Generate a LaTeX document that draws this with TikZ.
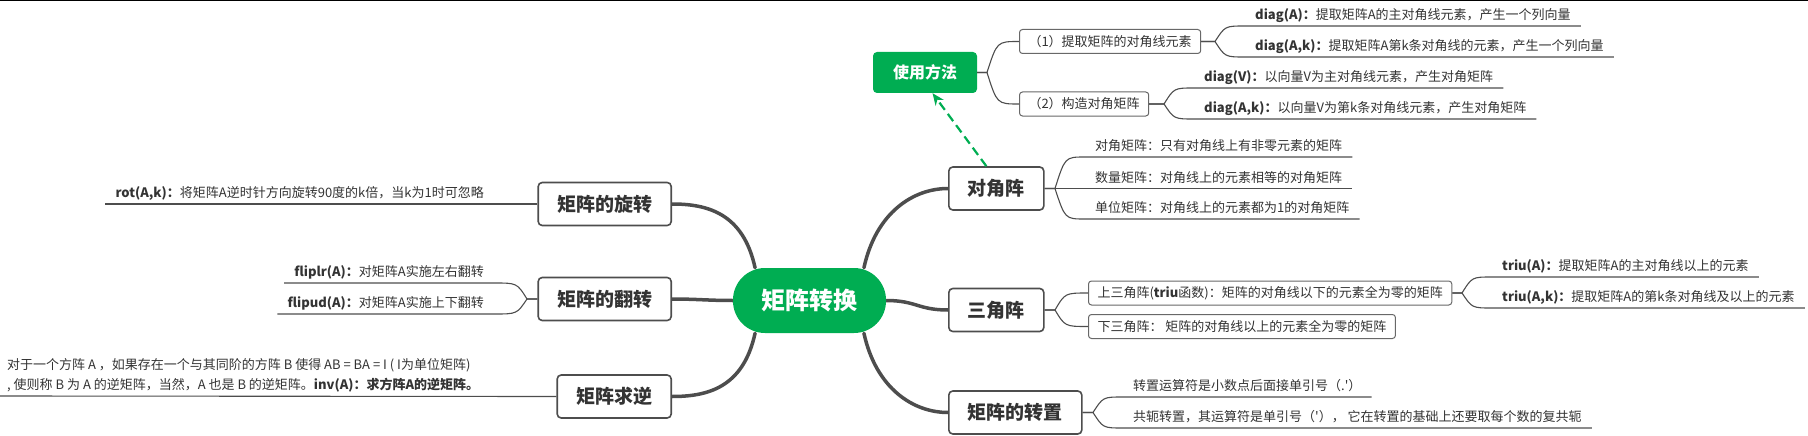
\documentclass[tikz,border=0pt]{standalone}
\usepackage{fontspec}
\setmainfont{Noto Sans CJK SC}
\usetikzlibrary{positioning, arrows.meta, backgrounds}
\definecolor{mindgreen}{HTML}{00AD52}
\definecolor{ink}{HTML}{333333}
\definecolor{edge}{HTML}{4D4D4D}
\tikzstyle{topic} = [rectangle, fill=mindgreen, text=white, rounded corners=32pt,
    minimum width=153pt, minimum height=65pt, font=\fontsize{24}{29}\selectfont\bfseries]
\tikzstyle{usage} = [rectangle, fill=mindgreen, text=white, rounded corners=4pt,
    minimum width=104pt, minimum height=41pt, font=\fontsize{16}{19}\selectfont\bfseries]
\tikzstyle{branch} = [rectangle, draw=edge, line width=1.6pt, fill=white, rounded corners=4pt,
    text=ink, inner xsep=19pt, minimum height=43pt, font=\fontsize{19}{23}\selectfont\bfseries]
\tikzstyle{sub} = [rectangle, draw=edge!85, line width=1pt, fill=white, rounded corners=3pt,
    text=ink, inner xsep=9pt, minimum height=24pt, anchor=west, font=\fontsize{13}{16}\selectfont]
\tikzstyle{leaf} = [inner xsep=10pt, inner ysep=4pt, text height=11pt, text depth=2pt,
    text=ink, anchor=south west, font=\fontsize{13}{16}\selectfont]
\tikzstyle{leftleaf} = [leaf, anchor=south east]
\tikzstyle{note} = [inner xsep=7pt, inner ysep=4pt, align=left, text=ink, anchor=south west,
    font=\fontsize{13}{20}\selectfont]
\tikzstyle{bough} = [draw=edge, line width=3.5pt, line cap=round]
\tikzstyle{twig} = [draw=edge, line width=1.1pt]
\tikzstyle{usagearrow} = [draw=mindgreen, line width=2.2pt, dash pattern=on 9pt off 5pt,
    -{Stealth[length=12pt, width=10pt]}]

\begin{document}
\begin{tikzpicture}[x=1pt, y=-1pt]
  \useasboundingbox (0,0) rectangle (1808,436);
  \draw [black, line width=1.2pt] (0,0.6) -- (1808,0.6);
   % Place nodes
    \node [topic] (topic) at (809.5,300.5) {矩阵转换};
    \node [usage] (usage) at (925,72.5) {使用方法};
    \node [sub] (subone) at (1019,41.5) {（1）提取矩阵的对角线元素};
    \node [sub] (subtwo) at (1019,104) {（2）构造对角矩阵};
    \node [branch, anchor=west] (diag) at (948,188.5) {对角阵};
    \node [branch, anchor=west] (tri) at (948,310) {三角阵};
    \node [branch, anchor=west] (trans) at (948,412.5) {矩阵的转置};
    \node [sub] (upper) at (1088,293) {上三角阵(\textbf{triu}函数)：矩阵的对角线以下的元素全为零的矩阵};
    \node [sub] (lower) at (1088,326.5) {下三角阵：\ 矩阵的对角线以上的元素全为零的矩阵};
    \node [branch, anchor=east] (rot) at (672,204) {矩阵的旋转};
    \node [branch, anchor=east] (flip) at (672,299) {矩阵的翻转};
    \node [branch, anchor=east] (inv) at (672,396.5) {矩阵求逆};
   % Leaves
    \node [leaf] (diaga) at (1245,26) {\textbf{diag(A)：}提取矩阵A的主对角线元素，产生一个列向量};
    \node [leaf] (diagak) at (1245,57) {\textbf{diag(A,k)：}提取矩阵A第k条对角线的元素，产生一个列向量};
    \node [leaf] (diagv) at (1194,88) {\textbf{diag(V)：}以向量V为主对角线元素，产生对角矩阵};
    \node [leaf] (diagvk) at (1194,119) {\textbf{diag(A,k)：}以向量V为第k条对角线元素，产生对角矩阵};
    \node [leaf] (plain) at (1085,157) {对角矩阵：只有对角线上有非零元素的矩阵};
    \node [leaf] (scalar) at (1085,188.5) {数量矩阵：对角线上的元素相等的对角矩阵};
    \node [leaf] (unit) at (1085,219) {单位矩阵：对角线上的元素都为1的对角矩阵};
    \node [leaf] (triua) at (1492,277) {\textbf{triu(A)：}提取矩阵A的主对角线以上的元素};
    \node [leaf] (triuak) at (1492,308) {\textbf{triu(A,k)：}提取矩阵A的第k条对角线及以上的元素};
    \node [leaf] (dot) at (1123,397) {转置运算符是小数点后面接单引号（.\textquotesingle）};
    \node [leaf] (conj) at (1123,428) {共轭转置，其运算符是单引号（\textquotesingle）， 它在转置的基础上还要取每个数的复共轭};
    \node [leftleaf] (rotk) at (494,204) {\textbf{rot(A,k)：}将矩阵A逆时针方向旋转90度的k倍，当k为1时可忽略};
    \node [leftleaf] (fliplr) at (494,283) {\textbf{fliplr(A)：}对矩阵A实施左右翻转};
    \node [leftleaf] (flipud) at (494,314) {\textbf{flipud(A)：}对矩阵A实施上下翻转};
    \node [note] (invtext) at (0,396) {对于一个方阵 A ，如果存在一个与其同阶的方阵 B 使得 AB = BA = I ( I为单位矩阵)\\
      , 使则称 B 为 A 的逆矩阵，当然，A 也是 B 的逆矩阵。\textbf{inv(A)：求方阵A的逆矩阵。}};
   % Draw edges
    \begin{scope}[on background layer]
    \path [bough] (topic.149) .. controls +(-12,-55) and +(35,0) .. (rot.east);
    \path [bough] (topic.west) .. controls +(-25,0) and +(25,0) .. (flip.east);
    \path [bough] (topic.211) .. controls +(-12,55) and +(35,0) .. (inv.east);
    \path [bough] (topic.31) .. controls +(12,-55) and +(-35,0) .. (diag.west);
    \path [bough] (topic.east) .. controls +(30,0) and +(-30,0) .. (tri.west);
    \path [bough] (topic.-31) .. controls +(12,55) and +(-35,0) .. (trans.west);
    \end{scope}
    \path [twig] (usage.east) -- (987,72.5) .. controls (997,41.5) .. (subone.west);
    \path [twig] (usage.east) -- (987,72.5) .. controls (997,104) .. (subtwo.west);
    \path [twig] (subone.east) -- (1215,41.5) .. controls (1225,26) .. (diaga.south west) -- (diaga.south east);
    \path [twig] (subone.east) -- (1215,41.5) .. controls (1225,57) .. (diagak.south west) -- (diagak.south east);
    \path [twig] (subtwo.east) -- (1164,104) .. controls (1174,88) .. (diagv.south west) -- (diagv.south east);
    \path [twig] (subtwo.east) -- (1164,104) .. controls (1174,119) .. (diagvk.south west) -- (diagvk.south east);
    \path [twig] (diag.east) -- (1055,188.5) .. controls (1065,157) .. (plain.south west) -- (plain.south east);
    \path [twig] (diag.east) -- (scalar.south west) -- (scalar.south east);
    \path [twig] (diag.east) -- (1055,188.5) .. controls (1065,219) .. (unit.south west) -- (unit.south east);
    \path [twig] (tri.east) -- (1055,310) .. controls (1065,293) .. (upper.west);
    \path [twig] (tri.east) -- (1055,310) .. controls (1065,326.5) .. (lower.west);
    \path [twig] (upper.east) -- (1462,293) .. controls (1472,277) .. (triua.south west) -- (triua.south east);
    \path [twig] (upper.east) -- (1462,293) .. controls (1472,308) .. (triuak.south west) -- (triuak.south east);
    \path [twig] (trans.east) -- (1093,412.5) .. controls (1103,397) .. (dot.south west) -- (dot.south east);
    \path [twig] (trans.east) -- (1093,412.5) .. controls (1103,428) .. (conj.south west) -- (conj.south east);
    \path [twig] (rot.west) -- (rotk.south east) -- (rotk.south west);
    \path [twig] (flip.west) -- (527,299) .. controls (517,283) .. (fliplr.south east) -- (fliplr.south west);
    \path [twig] (flip.west) -- (527,299) .. controls (517,314) .. (flipud.south east) -- (flipud.south west);
    \path [twig] (inv.west) -- (invtext.south west);
    \path [usagearrow] (diag.114) -- (usage.-70);
\end{tikzpicture}
\end{document}
